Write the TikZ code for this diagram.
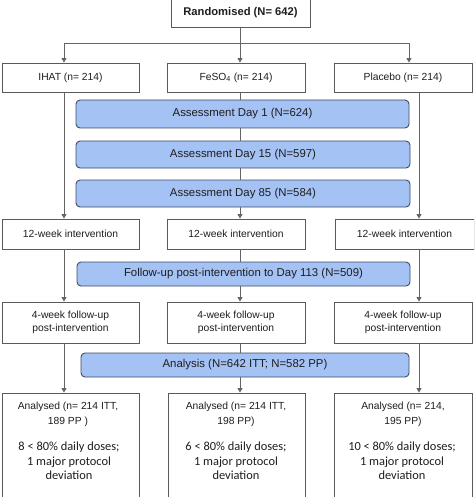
\documentclass[tikz,border=0pt]{standalone}
\usepackage{fontspec}
\setmainfont{Liberation Sans}
\newfontfamily\calfont{Carlito}
\usetikzlibrary{arrows.meta}
\definecolor{bluefill}{RGB}{164,194,244}
\definecolor{blueedge}{RGB}{62,76,100}
\definecolor{linegray}{RGB}{100,100,100}
\definecolor{boxgray}{RGB}{90,90,90}
\definecolor{txt}{RGB}{30,30,30}
\tikzset{
  wbox/.style={draw=boxgray, line width=0.9pt, fill=white, inner sep=0pt, text=txt, align=center, font=\fontsize{10.3}{12.5}\selectfont},
  bbox/.style={draw=blueedge, line width=0.9pt, fill=bluefill, rounded corners=4pt, inner sep=0pt, text=txt, font=\fontsize{11.4}{13}\selectfont},
  conn/.style={draw=linegray, line width=0.8pt},
  arr/.style={conn, -{Triangle[length=4.5pt,width=5pt]}},
  lbl/.style={inner sep=0pt, text=txt, align=center}
}
\begin{document}
\begin{tikzpicture}[x=1pt,y=-1pt]
\useasboundingbox (0,0) rectangle (474,497);
\clip (0,0) rectangle (474,497);
\fill[white] (0,0) rectangle (474,497);
% top
\node[wbox, minimum width=139pt, minimum height=30pt, font=\bfseries\fontsize{11.2}{13}\selectfont] (rand) at (240.5,12.5) {Randomised (N= 642)};
% arms
\node[wbox, minimum width=137pt, minimum height=29pt] (ihat) at (70.5,77.5) {IHAT (n= 214)};
\node[wbox, minimum width=138pt, minimum height=29pt] (fe) at (236,77.5) {FeSO\textsubscript{4} (n= 214)};
\node[wbox, minimum width=138pt, minimum height=29pt] (pl) at (403,77.5) {Placebo (n= 214)};
% assessments
\node[bbox, minimum width=333pt, minimum height=28pt] (a1) at (242.5,114) {Assessment Day 1 (N=624)};
\node[bbox, minimum width=334pt, minimum height=27pt] (a15) at (243,154.5) {Assessment Day 15 (N=597)};
\node[bbox, minimum width=334pt, minimum height=27pt] (a85) at (243,193.5) {Assessment Day 85 (N=584)};
% 12-week
\node[wbox, minimum width=137pt, minimum height=30pt] (wa) at (70.5,234) {12-week intervention};
\node[wbox, minimum width=138pt, minimum height=30pt] (wb) at (236,234) {12-week intervention};
\node[wbox, minimum width=139pt, minimum height=30pt] (wc) at (404.5,234) {12-week intervention};
% follow-up
\node[bbox, minimum width=333pt, minimum height=24pt] (fu) at (243.5,274) {Follow-up post-intervention to Day 113 (N=509)};
% 4-week
\node[wbox, minimum width=137pt, minimum height=41pt] (fa) at (70.5,322.5) {4-week follow-up\\post-intervention};
\node[wbox, minimum width=138pt, minimum height=41pt] (fb) at (236,322.5) {4-week follow-up\\post-intervention};
\node[wbox, minimum width=138pt, minimum height=41pt] (fc) at (403,322.5) {4-week follow-up\\post-intervention};
% analysis
\node[bbox, minimum width=328pt, minimum height=24pt] (an) at (245,365) {Analysis (N=642 ITT; N=582 PP)};
% analysed
\node[wbox, minimum width=137pt, minimum height=117pt] (ra) at (70.5,451.5) {};
\node[wbox, minimum width=137pt, minimum height=117pt] (rb) at (236.5,451.5) {};
\node[wbox, minimum width=138pt, minimum height=117pt] (rc) at (403,451.5) {};
\node[lbl, font=\fontsize{10.3}{15}\selectfont] (ra1) at (68,414.5) {Analysed (n= 214 ITT,\\189 PP )};
\node[lbl, font=\fontsize{10.3}{15}\selectfont] (rb1) at (236,414.5) {Analysed (n= 214 ITT,\\198 PP)};
\node[lbl, font=\fontsize{10.3}{15}\selectfont] (rc1) at (403,414.5) {Analysed (n= 214,\\195 PP)};
\node[lbl, font=\calfont\fontsize{12.4}{14.5}\selectfont] (ra2) at (69,461) {8 < 80\% daily doses;\\1 major protocol\\deviation};
\node[lbl, font=\calfont\fontsize{12.4}{14.5}\selectfont] (rb2) at (236,461) {6 < 80\% daily doses;\\1 major protocol\\deviation};
\node[lbl, font=\calfont\fontsize{12.4}{14.5}\selectfont] (rc2) at (402,461) {10 < 80\% daily doses;\\1 major protocol\\deviation};
% connectors: randomisation branch
\coordinate (br) at (240,43);
\coordinate (lx) at ([xshift=-6.5pt]ihat.south);
\coordinate (px) at ([xshift=16pt]pl.south);
\draw[conn] (rand.south -| br) -- (br);
\draw[arr] (br) -| ([xshift=-6.5pt]ihat.north);
\draw[arr] (br) -- (fe.north -| br);
\draw[arr] (br) -| ([xshift=6pt]pl.north);
% side columns
\draw[arr] (lx) -- (wa.north -| lx);
\draw[arr] (px) -- (wc.north -| px);
\draw[arr] (wa.south -| lx) -- (fa.north -| lx);
\draw[arr] (wc.south -| px) -- (fc.north -| px);
\draw[arr] (fa.south -| lx) -- (ra.north -| lx);
\draw[arr] (fc.south -| px) -- (rc.north -| px);
% centre column
\draw[conn] (fe.south -| br) -- (a1.north -| br);
\draw[conn] (a1.south -| br) -- (a15.north -| br);
\draw[conn] (a15.south -| br) -- (a85.north -| br);
\draw[arr] (a85.south -| br) -- (wb.north -| br);
\draw[conn] (wb.south -| br) -- (fu.north -| br);
\draw[arr] (fu.south -| br) -- (fb.north -| br);
\draw[conn] (fb.south -| br) -- (an.north -| br);
\draw[arr] (an.south -| br) -- (rb.north -| br);
\end{tikzpicture}
\end{document}
